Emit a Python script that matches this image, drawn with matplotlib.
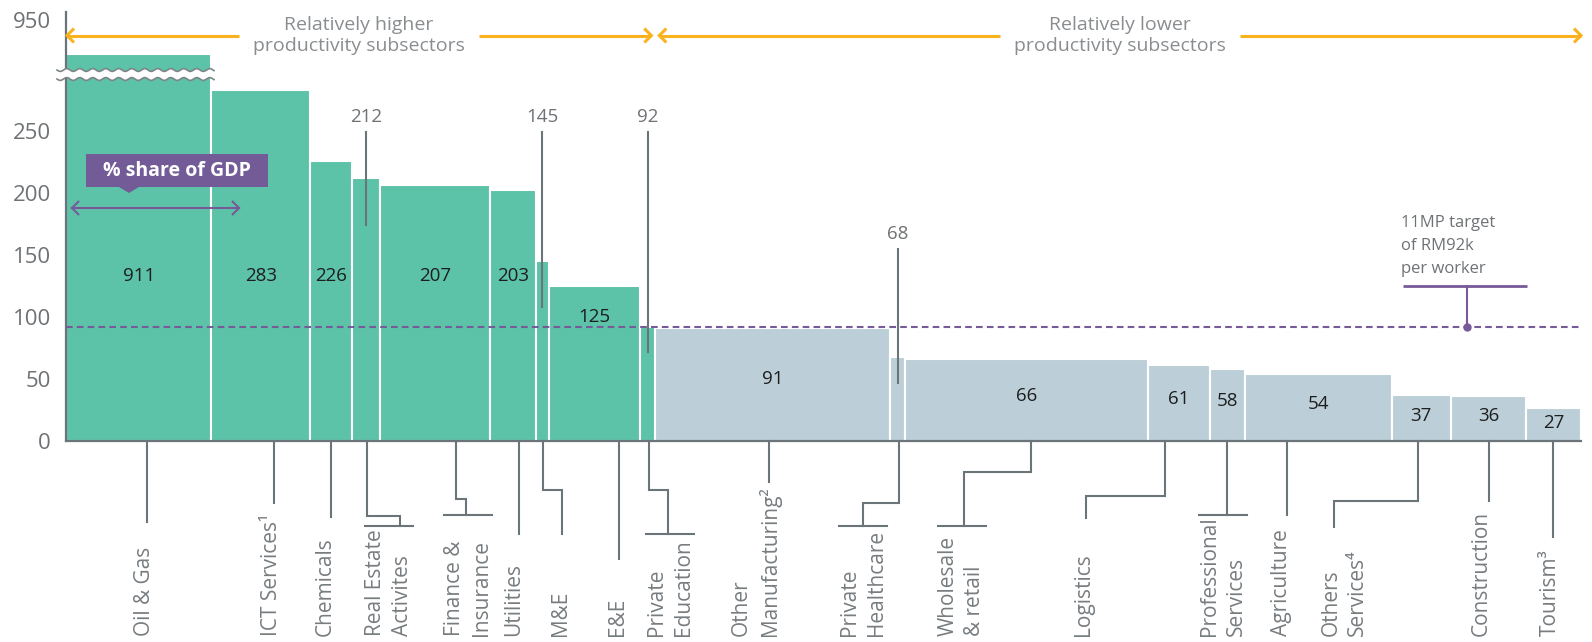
import numpy as np
import matplotlib
matplotlib.use('Agg')
from matplotlib import pyplot as plt
import matplotlib.transforms as mtransforms
from matplotlib.lines import Line2D
from matplotlib.patches import Polygon

# Labour productivity by subsector (RM'000 per worker), bar width = share of GDP (%)
subsectors = ['Oil & Gas', 'ICT Services¹', 'Chemicals', 'Real Estate\nActivites',
              'Finance &\nInsurance', 'Utilities', 'M&E', 'E&E', 'Private\nEducation',
              'Other\nManufacturing²', 'Private\nHealthcare', 'Wholesale\n& retail',
              'Logistics', 'Professional\nServices', 'Agriculture', 'Others\nServices⁴',
              'Construction', 'Tourism³']
productivity = [911, 283, 226, 212, 207, 203, 145, 125, 92,
                91, 68, 66, 61, 58, 54, 37, 36, 27]
gdp_share = [9.6, 6.5, 2.8, 1.8, 7.3, 3.0, 0.9, 6.0, 1.0,
             15.5, 1.0, 16.0, 4.1, 2.3, 9.7, 3.9, 5.0, 3.6]
n_higher = 9                    # first 9 subsectors are the higher productivity group
target_productivity = 92        # 11MP target, RM'000 per worker
callout_idx = [3, 6, 8, 10]     # bars too narrow for an inside label
y_ticks = [0, 50, 100, 150, 200, 250, 950]

GREEN = '#5cc2a8'
GREYBLUE = '#bccfd8'
PURPLE = '#775a98'
YELLOW = '#fab31e'
LINE_GREY = '#6b7478'
TEXT_GREY = '#6f7275'

plt.rcParams['font.family'] = ['Open Sans', 'DejaVu Sans']

W, H = 1592, 642
fig = plt.figure(figsize=(W / 100, H / 100), dpi=100)
ax = fig.add_axes([66 / W, 1 - 441 / H, (1581 - 66) / W, (441 - 12) / H])

# pixel coords with origin at top-left, used for the annotations around the plot
pix = mtransforms.Affine2D().scale(1, -1).translate(0, H)

# squash the empty range 290..900 so the Oil & Gas bar still fits
brk_in = [-1000, 290, 900, 2000]
brk_out = [-1000, 290, 305, 1075]
ax.set_yscale('function', functions=(lambda y: np.interp(y, brk_in, brk_out),
                                      lambda y: np.interp(y, brk_out, brk_in)))

share = np.array(gdp_share)
lefts = np.concatenate([[0], np.cumsum(share)[:-1]])
centers = lefts + share / 2
colors = [GREEN if i < n_higher else GREYBLUE for i in range(len(subsectors))]
ax.bar(lefts, productivity, width=share, align='edge', color=colors,
       edgecolor='white', linewidth=1.5, zorder=2)

ax.set_xlim(0, share.sum())
ax.set_ylim(0, 959)
for s in ['top', 'right']:
    ax.spines[s].set_visible(False)
for s in ['left', 'bottom']:
    ax.spines[s].set_color(LINE_GREY)
    ax.spines[s].set_linewidth(1.6)
    ax.spines[s].set_zorder(3)
ax.set_xticks([])
ax.set_yticks(y_ticks)
ax.tick_params(axis='y', length=0, pad=11, labelsize=16, labelcolor=TEXT_GREY)

ax.axhline(target_productivity, color=PURPLE, lw=1.5, ls=(0, (3.2, 2.0)), zorder=4)


def xpix(x):
    return ax.transData.transform((x, 0))[0]


def ypix(y):
    return H - ax.transData.transform((0, y))[1]


def line(xs, ys, color=LINE_GREY, lw=1.5, **kw):
    fig.add_artist(Line2D(xs, ys, transform=pix, color=color, lw=lw, **kw))


def chevron(x, y, direction, size, color, lw):
    line([x - direction * size, x, x - direction * size], [y - size, y, y + size],
         color=color, lw=lw, solid_joinstyle='miter', solid_capstyle='butt')


# values inside the bars
for i, (c, v) in enumerate(zip(centers, productivity)):
    if i in callout_idx:
        continue
    ypos = min(133, 0.8 * v) if v > 100 else 0.55 * v
    ax.text(c, ypos, str(v), ha='center', va='center', fontsize=13.5,
            color='#1e1e1e', zorder=5)

# values above the narrow bars, with a pointer line
callout_layout = {3: (117, 225), 6: (117, 307), 8: (117, 352), 10: (234, 383)}
for i in callout_idx:
    ly, lb = callout_layout[i]
    cx = xpix(centers[i])
    fig.text(cx, ly, str(productivity[i]), transform=pix, ha='center', va='center',
             fontsize=13.5, color=TEXT_GREY)
    line([cx, cx], [ly + 15, lb])

# axis break across the Oil & Gas bar
xs = np.linspace(57, 214, 400)
wave = 1.4 * np.sin(2 * np.pi * (xs - 57) / 13)
band = Polygon(np.column_stack([np.r_[xs, xs[::-1]], np.r_[70 + wave, (79 + wave)[::-1]]]),
               closed=True, facecolor='white', edgecolor='none', transform=pix, zorder=5)
fig.add_artist(band)
line(xs, 70 + wave, color='#7d8588', lw=1.2, zorder=6)
line(xs, 79 + wave, color='#7d8588', lw=1.2, zorder=6)

# leader lines down to the subsector names:
# (shift at bar, jog y, jog dx, end y, crossbar, name dx)
leader_layout = [
    (8, None, 0, 522, False, -2),
    (13, None, 0, 503, False, -2),
    (0, None, 0, 517, False, -6),
    (1, 516, 33, 526, True, -11),
    (21, 499, 10, 515, True, 2),
    (6, None, 0, 534, False, -5),
    (1, 490, 19, 534, False, -2),
    (24, None, 0, 559, False, -1),
    (1, 490, 19, 534, True, 2),
    (-4, None, 0, 482, False, -13),
    (1, 503, -36, 526, True, 0),
    (4, 472, -67, 526, True, -2),
    (-14, 496, -79, 518, False, -2),
    (0, None, 0, 515, True, -4),
    (-31, None, 0, 515, False, -6),
    (-3, 501, -84, 527, False, 10),
    (0, None, 0, 501, False, -7),
    (-1, None, 0, 537, False, -2),
]
axis_y = ypix(0)
for name, c, (dx0, yj, djog, yend, cross, ldx) in zip(subsectors, centers, leader_layout):
    x0 = xpix(c) + dx0
    x1 = x0 + djog
    if yj is None:
        line([x0, x0], [axis_y, yend])
    else:
        line([x0, x0, x1, x1], [axis_y, yj, yj, yend], solid_joinstyle='miter')
    xl = x1 + ldx
    if cross:
        line([xl - 24, xl + 24], [yend, yend])
    fig.text(xl, 636, name, transform=pix, rotation=90, rotation_mode='anchor',
             ha='left', va='center', multialignment='left', linespacing=1.35,
             fontsize=15, color='#777c80')

# group headers with yellow arrows
renderer = fig.canvas.get_renderer()
split = xpix(lefts[n_higher])
groups = [(xpix(0) + 1, split - 4, 'Relatively higher\nproductivity subsectors'),
          (split + 4, xpix(share.sum()), 'Relatively lower\nproductivity subsectors')]
hy = 35.5
for xa, xb, label in groups:
    xm = (xa + xb) / 2
    t = fig.text(xm, hy, label, transform=pix, ha='center', va='center',
                 linespacing=1.27, fontsize=14, color='#8a8d90')
    half = t.get_window_extent(renderer).width / 2 + 14
    line([xa, xm - half], [hy, hy], color=YELLOW, lw=2.2, solid_capstyle='butt')
    line([xm + half, xb], [hy, hy], color=YELLOW, lw=2.2, solid_capstyle='butt')
    chevron(xa, hy, -1, 7, YELLOW, 2.2)
    chevron(xb, hy, 1, 7, YELLOW, 2.2)

# "% share of GDP" tag with width arrow
box = Polygon([(86, 154), (268, 154), (268, 187), (139, 187), (129, 193), (119, 187), (86, 187)],
              closed=True, facecolor='#735b98', edgecolor='none', transform=pix, zorder=6)
fig.add_artist(box)
fig.text(177, 171, '% share of GDP', transform=pix, ha='center', va='center',
         fontsize=14, fontweight='bold', color='white', zorder=7)
line([72, 239], [208, 208], color=PURPLE, lw=1.5)
chevron(72, 208, -1, 7, PURPLE, 1.5)
chevron(239, 208, 1, 7, PURPLE, 1.5)

# target annotation
ty = ypix(target_productivity)
fig.text(1401, 246, '11MP target\nof RM92k\nper worker', transform=pix, ha='left',
         va='center', linespacing=1.55, fontsize=12, color=TEXT_GREY)
line([1403, 1527], [286, 286], color=PURPLE, lw=2, solid_capstyle='butt')
line([1467, 1467], [286, ty], color=PURPLE, lw=1.5)
fig.add_artist(Line2D([1467], [ty], transform=pix, marker='o', markersize=5,
                      color=PURPLE, zorder=6))

plt.savefig('out.png', dpi=100)
plt.close()
